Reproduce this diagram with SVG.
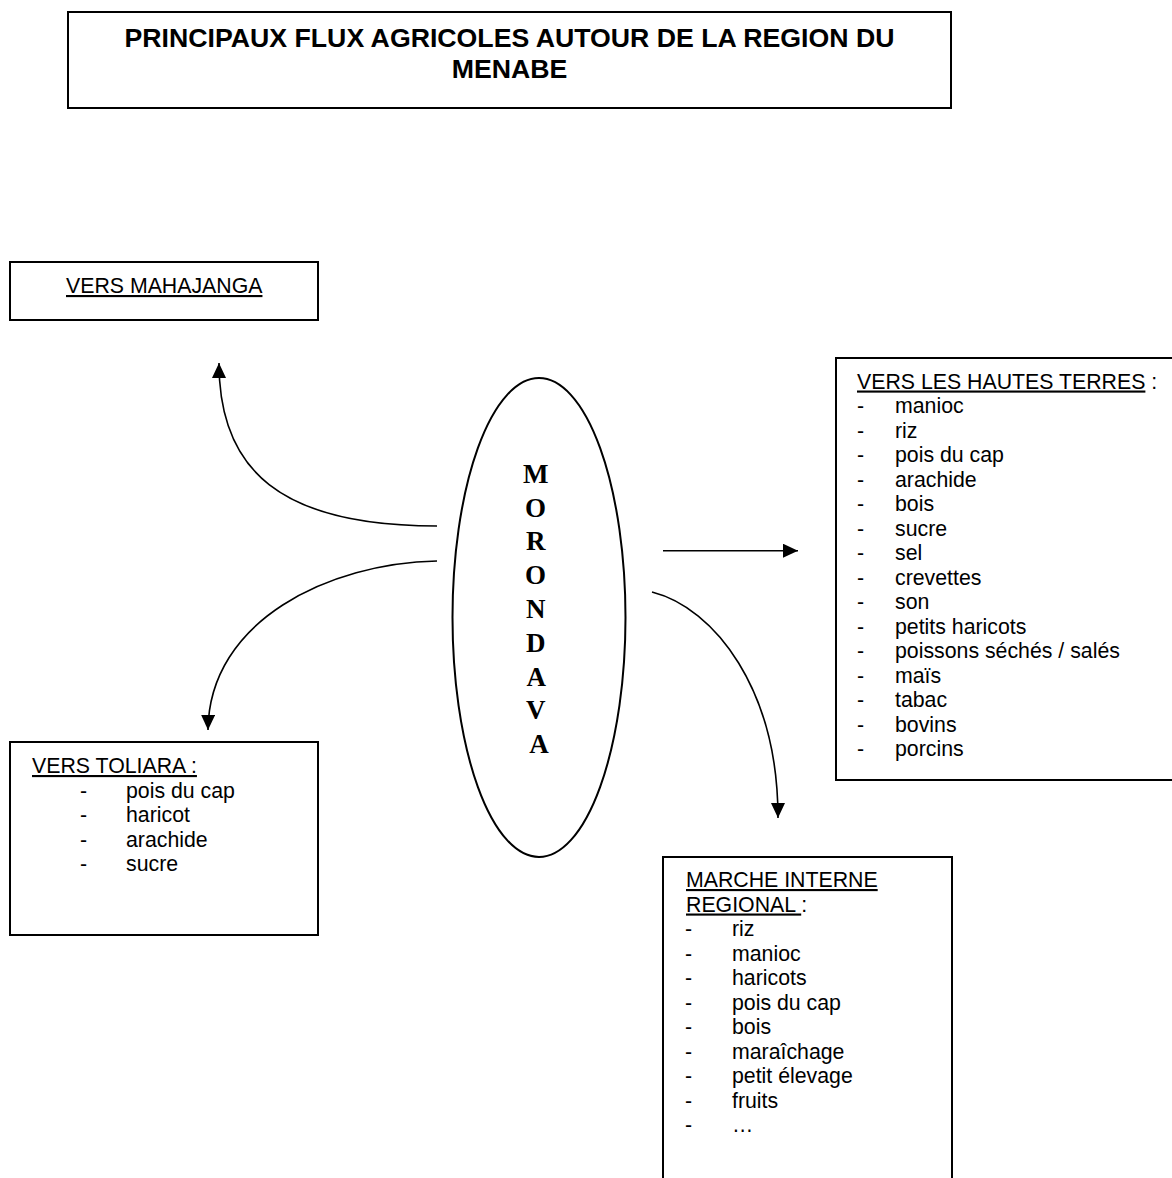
<svg xmlns="http://www.w3.org/2000/svg" width="1172" height="1178" viewBox="0 0 1172 1178">
<style>
.box{fill:#fff;stroke:#000;stroke-width:2}
.t{font-family:"Liberation Sans",Arial,sans-serif;font-size:21.3px;fill:#000;white-space:pre}
.title{font-family:"Liberation Sans",Arial,sans-serif;font-size:26.7px;font-weight:bold;fill:#000}
.u{text-decoration:underline}
.city{font-family:"Liberation Serif","Times New Roman",serif;font-size:27px;font-weight:bold;fill:#000}
.conn{fill:none;stroke:#000;stroke-width:1.6}
</style>
<defs>
<marker id="arr" viewBox="0 0 15 14" refX="15" refY="7" markerWidth="15" markerHeight="14" markerUnits="userSpaceOnUse" orient="auto">
<path d="M0,0 L15,7 L0,14 Z" fill="#000"/>
</marker>
</defs>
<rect width="1172" height="1178" fill="#fff"/>

<g id="title">
<rect class="box" x="68" y="12" width="883" height="96"/>
<text class="title" x="509.5" y="47" text-anchor="middle">PRINCIPAUX FLUX AGRICOLES AUTOUR DE LA REGION DU</text>
<text class="title" x="509.5" y="78" text-anchor="middle">MENABE</text>
</g>

<g id="mahajanga">
<rect class="box" x="10" y="262" width="308" height="58"/>
<text class="t u" x="66" y="293">VERS MAHAJANGA</text>
</g>

<g id="morondava">
<ellipse cx="539" cy="617.5" rx="86.5" ry="239.5" fill="#fff" stroke="#000" stroke-width="2"/>
<text class="city" text-anchor="middle">
<tspan x="539" y="483">M</tspan>
<tspan x="539" y="517">O</tspan>
<tspan x="539" y="550">R</tspan>
<tspan x="539" y="584">O</tspan>
<tspan x="539" y="618">N</tspan>
<tspan x="539" y="652">D</tspan>
<tspan x="539" y="686">A</tspan>
<tspan x="539" y="719">V</tspan>
<tspan x="539" y="753">A</tspan>
</text>
</g>

<g id="hautes-terres">
<rect class="box" x="836" y="358" width="350" height="422"/>
<text class="t" x="857" y="388.5"><tspan class="u">VERS LES HAUTES TERRES</tspan> :</text>
<text class="t">
<tspan x="857" y="413">-</tspan><tspan x="895" y="413">manioc</tspan>
<tspan x="857" y="437.5">-</tspan><tspan x="895" y="437.5">riz</tspan>
<tspan x="857" y="462">-</tspan><tspan x="895" y="462">pois du cap</tspan>
<tspan x="857" y="486.5">-</tspan><tspan x="895" y="486.5">arachide</tspan>
<tspan x="857" y="511">-</tspan><tspan x="895" y="511">bois</tspan>
<tspan x="857" y="535.5">-</tspan><tspan x="895" y="535.5">sucre</tspan>
<tspan x="857" y="560">-</tspan><tspan x="895" y="560">sel</tspan>
<tspan x="857" y="584.5">-</tspan><tspan x="895" y="584.5">crevettes</tspan>
<tspan x="857" y="609">-</tspan><tspan x="895" y="609">son</tspan>
<tspan x="857" y="633.5">-</tspan><tspan x="895" y="633.5">petits haricots</tspan>
<tspan x="857" y="658">-</tspan><tspan x="895" y="658">poissons séchés / salés</tspan>
<tspan x="857" y="682.5">-</tspan><tspan x="895" y="682.5">maïs</tspan>
<tspan x="857" y="707">-</tspan><tspan x="895" y="707">tabac</tspan>
<tspan x="857" y="731.5">-</tspan><tspan x="895" y="731.5">bovins</tspan>
<tspan x="857" y="756">-</tspan><tspan x="895" y="756">porcins</tspan>
</text>
</g>

<g id="toliara">
<rect class="box" x="10" y="742" width="308" height="193"/>
<text class="t u" x="32" y="773">VERS TOLIARA :</text>
<text class="t">
<tspan x="80" y="797.5">-</tspan><tspan x="126" y="797.5">pois du cap</tspan>
<tspan x="80" y="822">-</tspan><tspan x="126" y="822">haricot</tspan>
<tspan x="80" y="846.5">-</tspan><tspan x="126" y="846.5">arachide</tspan>
<tspan x="80" y="871">-</tspan><tspan x="126" y="871">sucre</tspan>
</text>
</g>

<g id="marche-interne">
<rect class="box" x="663" y="857" width="289" height="340"/>
<text class="t u" x="686" y="887">MARCHE INTERNE</text>
<text class="t" x="686" y="911.5"><tspan class="u">REGIONAL </tspan>:</text>
<text class="t">
<tspan x="685" y="936">-</tspan><tspan x="732" y="936">riz</tspan>
<tspan x="685" y="960.5">-</tspan><tspan x="732" y="960.5">manioc</tspan>
<tspan x="685" y="985">-</tspan><tspan x="732" y="985">haricots</tspan>
<tspan x="685" y="1009.5">-</tspan><tspan x="732" y="1009.5">pois du cap</tspan>
<tspan x="685" y="1034">-</tspan><tspan x="732" y="1034">bois</tspan>
<tspan x="685" y="1058.5">-</tspan><tspan x="732" y="1058.5">maraîchage</tspan>
<tspan x="685" y="1083">-</tspan><tspan x="732" y="1083">petit élevage</tspan>
<tspan x="685" y="1107.5">-</tspan><tspan x="732" y="1107.5">fruits</tspan>
<tspan x="685" y="1132">-</tspan><tspan x="732" y="1132">…</tspan>
</text>
</g>

<g id="connectors">
<path class="conn" d="M437,526 C280,526 219,470 219,363" marker-end="url(#arr)"/>
<path class="conn" d="M437,561 C330,563 209,620 208,730" marker-end="url(#arr)"/>
<path class="conn" d="M663,550.7 L798,550.7" marker-end="url(#arr)"/>
<path class="conn" d="M652,592 C715,608 778,690 778,818" marker-end="url(#arr)"/>
</g>
</svg>
